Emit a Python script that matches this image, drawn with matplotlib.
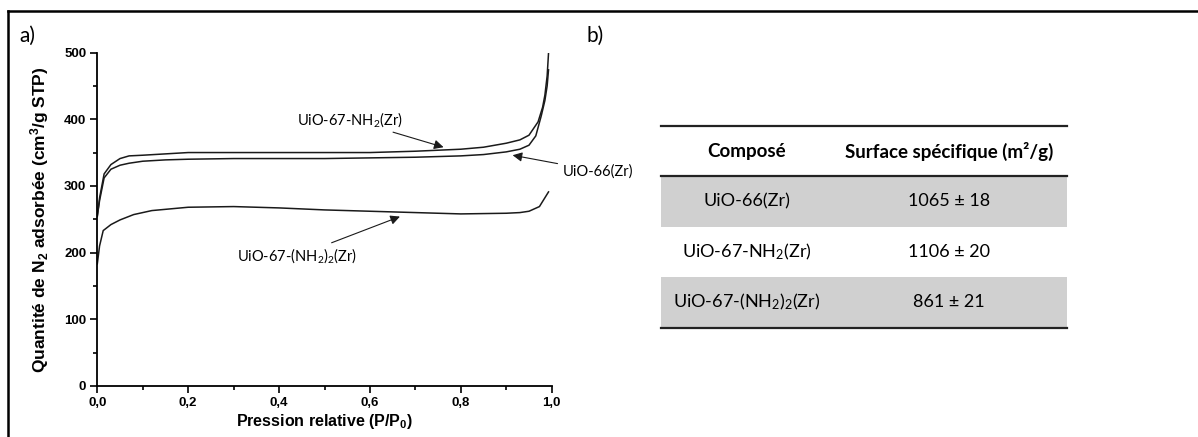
import numpy as np
import matplotlib
matplotlib.use("Agg")
import matplotlib.pyplot as plt
from matplotlib.patches import Rectangle

# ---------- data ----------
x_nh2 = [0, 0.005, 0.015, 0.03, 0.05, 0.07, 0.1, 0.15, 0.2, 0.3, 0.4, 0.5, 0.6, 0.7,
         0.8, 0.85, 0.9, 0.93, 0.95, 0.97, 0.98, 0.985, 0.99, 0.993]
y_nh2 = [254, 282, 318, 332, 341, 345, 346, 348, 350, 350, 350, 350, 350, 352,
         355, 358, 364, 369, 376, 396, 418, 436, 465, 499]

x_66 = [0, 0.005, 0.015, 0.03, 0.05, 0.07, 0.1, 0.15, 0.2, 0.3, 0.4, 0.5, 0.6, 0.7,
        0.8, 0.85, 0.9, 0.93, 0.95, 0.965, 0.977, 0.985, 0.99, 0.993]
y_66 = [255, 278, 312, 325, 331, 334, 337, 339, 340, 341, 341, 341, 342, 343,
        345, 347, 351, 355, 361, 375, 405, 428, 450, 474]

x_nh22 = [0, 0.005, 0.013, 0.03, 0.05, 0.08, 0.12, 0.2, 0.3, 0.4, 0.5, 0.6, 0.7,
          0.8, 0.9, 0.93, 0.95, 0.973, 0.993]
y_nh22 = [183, 210, 233, 242, 249, 257, 263, 268, 269, 267, 264, 262, 260,
          258, 259, 260, 262, 269, 291]

compounds = ['UiO-66(Zr)', 'UiO-67-NH$_2$(Zr)', 'UiO-67-(NH$_2$)$_2$(Zr)']
surfaces = ['1065 ± 18', '1106 ± 20', '861 ± 21']
headers = ['Composé', 'Surface spécifique (m²/g)']

# ---------- style ----------
W, H = 1198, 437
plt.rcParams['mathtext.fontset'] = 'custom'
plt.rcParams['mathtext.rm'] = 'Lato'
plt.rcParams['mathtext.it'] = 'Lato:italic'
plt.rcParams['mathtext.bf'] = 'Liberation Sans:bold'
lab_font = ['Lato', 'DejaVu Sans']
ax_font = ['Liberation Sans', 'DejaVu Sans']

fig = plt.figure(figsize=(W / 100, H / 100), dpi=100)

# overlay in pixel coordinates (frame, panel letters, table)
ov = fig.add_axes([0, 0, 1, 1])
ov.set_xlim(0, W)
ov.set_ylim(H, 0)
ov.axis('off')
ov.plot([8, 8], [H, 11], color='black', lw=1.8, solid_capstyle='projecting')
ov.plot([8, W], [11, 11], color='black', lw=1.8, solid_capstyle='projecting')
ov.text(19, 36, 'a)', fontsize=15, family=lab_font, va='center', ha='left')
ov.text(586, 36, 'b)', fontsize=15, family=lab_font, va='center', ha='left')

# table
tx0, tx1 = 661, 1067
col_c = [747, 949]
top, head_bot, row_h = 126, 176, 50.5
for i, (c, s) in enumerate(zip(compounds, surfaces)):
    y0 = head_bot + i * row_h
    if i % 2 == 0:
        ov.add_patch(Rectangle((tx0, y0), tx1 - tx0, row_h, color='#d0d0d0', lw=0))
    ov.text(col_c[0], y0 + row_h / 2, c, fontsize=13, family=lab_font, ha='center', va='center')
    ov.text(col_c[1], y0 + row_h / 2, s, fontsize=13, family=lab_font, ha='center', va='center')
for j, h in enumerate(headers):
    ov.text(col_c[j], (top + head_bot) / 2, h, fontsize=13.5, family=lab_font,
            weight='bold', ha='center', va='center')
bot = head_bot + len(compounds) * row_h
for yy in (top, head_bot, bot):
    ov.plot([tx0, tx1], [yy, yy], color='#222222', lw=1.6)

# ---------- isotherm plot ----------
ax = fig.add_axes([97.3 / W, 1 - 386 / H, (551.7 - 97.3) / W, (386 - 52.5) / H])
ax.patch.set_alpha(0)
lc = '#1a1a1a'
ax.plot(x_nh2, y_nh2, color=lc, lw=1.1)
ax.plot(x_66, y_66, color=lc, lw=1.1)
ax.plot(x_nh22, y_nh22, color=lc, lw=1.1)
ax.set_xlim(0, 1.0)
ax.set_ylim(0, 500)
for s in ('top', 'right'):
    ax.spines[s].set_visible(False)
for s in ('left', 'bottom'):
    ax.spines[s].set_linewidth(1.3)
ax.set_xticks(np.arange(0, 1.01, 0.2))
ax.set_xticks(np.arange(0.1, 1.0, 0.2), minor=True)
ax.set_yticks(np.arange(0, 501, 100))
ax.set_yticks(np.arange(50, 500, 100), minor=True)
ax.set_xticklabels([f'{v:.1f}'.replace('.', ',') for v in np.arange(0, 1.01, 0.2)])
ax.tick_params(which='major', length=5, width=1.2, direction='out', labelsize=9.5, pad=3)
ax.tick_params(which='minor', length=3, width=1.2, direction='out')
for lab in ax.get_xticklabels() + ax.get_yticklabels():
    lab.set_fontweight('bold')
    lab.set_family(ax_font)
ax.set_xlabel('Pression relative (P/P$_\\mathbf{0}$)', fontsize=11.5, weight='bold',
              family=ax_font, labelpad=2)
ax.set_ylabel('Quantité de N$_\\mathbf{2}$ adsorbée (cm$^\\mathbf{3}$/g STP)', fontsize=12.5,
              weight='bold', family=ax_font, labelpad=9)

arrow = dict(arrowstyle='-|>', color=lc, lw=0.8, mutation_scale=14, shrinkA=2, shrinkB=0)
ax.annotate('UiO-67-NH$_2$(Zr)', xy=(0.762, 358), xytext=(0.555, 400),
            fontsize=10.5, family=lab_font, ha='center', va='center',
            arrowprops=arrow, annotation_clip=False)
ax.annotate('UiO-66(Zr)', xy=(0.914, 346), xytext=(1.025, 322),
            fontsize=10.5, family=lab_font, ha='left', va='center',
            arrowprops=arrow, annotation_clip=False)
ax.annotate('UiO-67-(NH$_2$)$_2$(Zr)', xy=(0.666, 254), xytext=(0.44, 195),
            fontsize=10.5, family=lab_font, ha='center', va='center',
            arrowprops=arrow, annotation_clip=False)

fig.savefig('out.png', dpi=100)
